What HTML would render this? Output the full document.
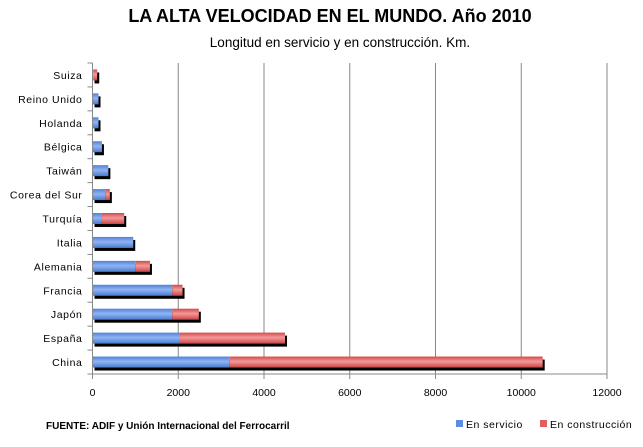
<!DOCTYPE html>
<html><head><meta charset="utf-8"><style>
body{margin:0;background:#fff;width:643px;height:442px;overflow:hidden;font-family:"Liberation Sans",sans-serif}
</style></head><body>
<svg width="643" height="442">
<defs>
<linearGradient id="gb" x1="0" y1="0" x2="0" y2="1"><stop offset="0" stop-color="#4f81d9"/><stop offset="0.45" stop-color="#8fb4f2"/><stop offset="1" stop-color="#4a7bd0"/></linearGradient>
<linearGradient id="gr" x1="0" y1="0" x2="0" y2="1"><stop offset="0" stop-color="#d44848"/><stop offset="0.45" stop-color="#f29a9a"/><stop offset="1" stop-color="#cc4444"/></linearGradient>
</defs>
<text x="330" y="22" text-anchor="middle" font-size="18" font-weight="bold">LA ALTA VELOCIDAD EN EL MUNDO. Año 2010</text>
<text x="340" y="47" text-anchor="middle" font-size="13.5">Longitud en servicio y en construcción. Km.</text>
<g id="grid"></g><g id="bars"></g><g id="axes"></g>
<text x="46" y="429" font-size="10" font-weight="bold">FUENTE: ADIF y Unión Internacional del Ferrocarril</text>
<rect x="456" y="420" width="7" height="7" fill="#5b8de0"/>
<text x="466" y="428" font-size="10.5" letter-spacing="0.5">En servicio</text>
<rect x="540" y="420" width="7" height="7" fill="#e06060"/>
<text x="550" y="428" font-size="10.5" letter-spacing="0.5">En construcción</text>
</svg>
<script>
const categories=["Suiza","Reino Unido","Holanda","Bélgica","Taiwán","Corea del Sur","Turquía","Italia","Alemania","Francia","Japón","España","China"];
const enServicio=[30,140,140,220,370,310,220,950,1010,1860,1860,2040,3200];
const totalKm=[110,140,140,220,370,405,740,950,1340,2100,2480,4490,10500];
const xTicks=[0,2000,4000,6000,8000,10000,12000];
const NS="http://www.w3.org/2000/svg";
const X0=92.5,X1=607,XMAX=12000,YT=63,YB=374;
const xs=v=>X0+v/XMAX*(X1-X0);
const step=(YB-YT)/categories.length;
const yc=i=>YT+step*(i+0.5);
function mk(p,t,a){const e=document.createElementNS(NS,t);for(const k in a)e.setAttribute(k,a[k]);p.appendChild(e);return e;}
const G=document.getElementById('grid'),B=document.getElementById('bars'),A=document.getElementById('axes');
xTicks.forEach(v=>{
 if(v>0){const l=mk(G,'line',{x1:xs(v),x2:xs(v),y1:YT,y2:YB,stroke:'#888','stroke-width':1});
 
 }
 const tk=mk(A,'line',{x1:xs(v),x2:xs(v),y1:YB,y2:YB+5,stroke:'#888'});
 
 
 const t=mk(A,'text',{x:xs(v),y:YB+22,'text-anchor':'middle','font-size':'10.5'});t.textContent=v;
 
 
});
const ax=mk(A,'line',{x1:X0,x2:X0,y1:YT,y2:YB,stroke:'#888'});


const bx=mk(A,'line',{x1:X0,x2:X1,y1:YB,y2:YB,stroke:'#888'});


for(let i=0;i<=categories.length;i++){const t=mk(A,'line',{x1:X0-5,x2:X0,y1:YT+step*i,y2:YT+step*i,stroke:'#888'});
 
 }
categories.forEach((c,i)=>{
 const y=yc(i),h=11;
 const sh=mk(B,'rect',{x:X0+2,y:y-h/2+3,width:xs(totalKm[i])-X0,height:h,fill:'#000'});
 
 
 const b=mk(B,'rect',{x:X0,y:y-h/2,width:xs(enServicio[i])-X0,height:h,fill:'url(#gb)'});
 
 
 if(totalKm[i]>enServicio[i]){const r=mk(B,'rect',{x:xs(enServicio[i]),y:y-h/2,width:xs(totalKm[i])-xs(enServicio[i]),height:h,fill:'url(#gr)'});
 
 }
 const t=mk(A,'text',{x:X0-10,y:y+4,'text-anchor':'end','font-size':'10.5','letter-spacing':'0.6'});t.textContent=c;
 
 
});
</script>
</body></html>
